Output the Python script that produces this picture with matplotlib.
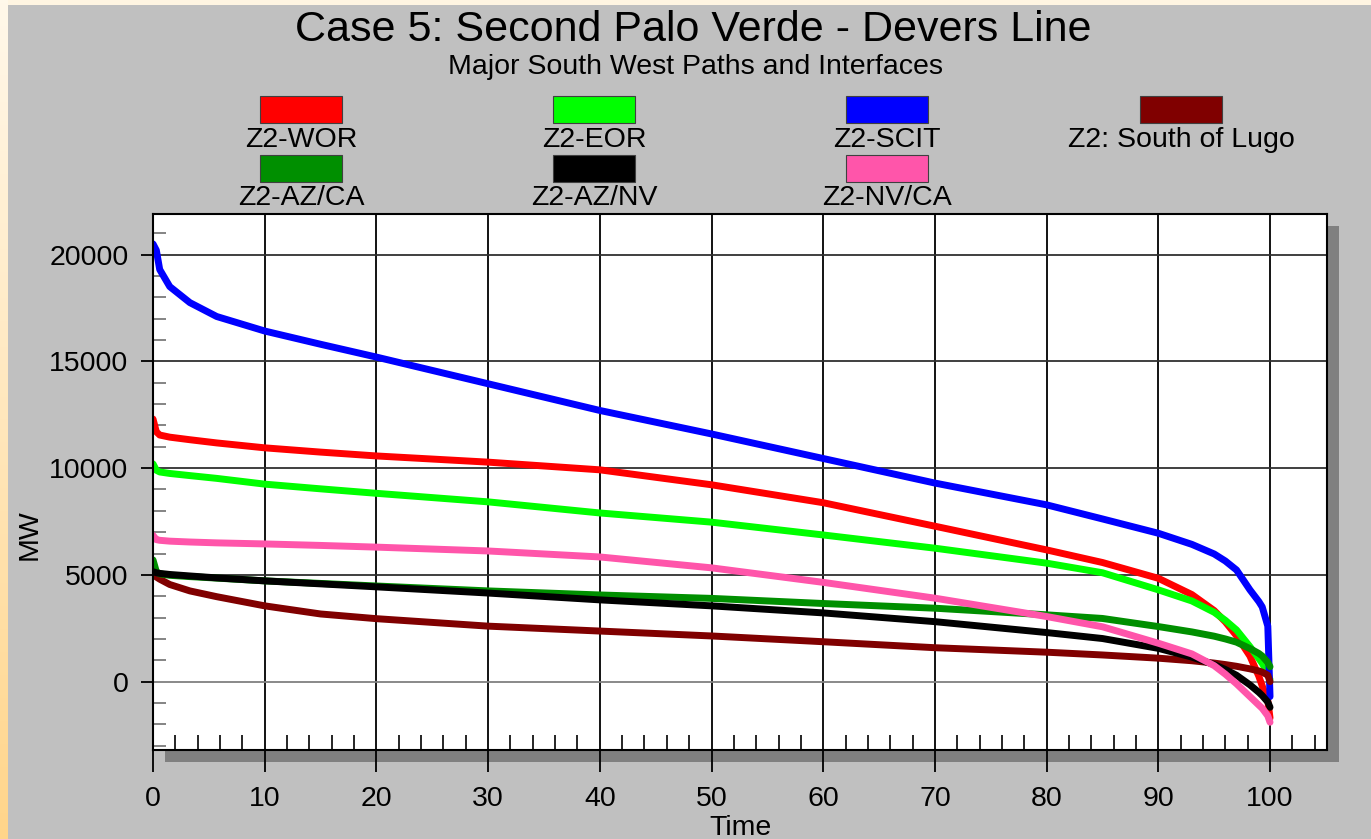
import numpy as np
import matplotlib
matplotlib.use("Agg")
import matplotlib.pyplot as plt
from matplotlib.patches import Rectangle
from matplotlib.ticker import MultipleLocator
from matplotlib.colors import LinearSegmentedColormap

plt.rcParams['font.family'] = ['Liberation Sans', 'DejaVu Sans']

# ---------------- data ----------------
time_pct = [0, 0.3, 0.6, 1.5, 3.3, 5.7, 10, 15, 20, 30, 40, 50, 60, 70, 80, 85, 90, 93, 95, 96, 97, 98.2, 99, 99.3, 99.8, 100]

wor  = [12300, 11700, 11550, 11450, 11330, 11180, 10950, 10750, 10570, 10280, 9920, 9220, 8380, 7280, 6170, 5580, 4840, 4080, 3330, 2800, 2150, 1200, 250, -200, -900, -1700]
eor  = [10200, 9900, 9820, 9750, 9650, 9520, 9250, 9030, 8820, 8420, 7900, 7470, 6870, 6250, 5550, 5100, 4300, 3780, 3250, 2870, 2420, 1640, 1080, 860, 400, 100]
scit = [20500, 20200, 19300, 18500, 17750, 17100, 16420, 15800, 15200, 13950, 12700, 11600, 10450, 9300, 8280, 7620, 6950, 6430, 5980, 5650, 5230, 4300, 3750, 3500, 2600, -700]
lugo = [5000, 4900, 4800, 4550, 4250, 3980, 3550, 3170, 2950, 2600, 2370, 2140, 1870, 1590, 1380, 1250, 1100, 980, 870, 800, 720, 600, 500, 450, 300, 0]
azca = [5700, 5150, 5050, 4980, 4920, 4850, 4720, 4600, 4480, 4250, 4060, 3900, 3660, 3440, 3130, 2960, 2580, 2330, 2130, 2000, 1850, 1550, 1320, 1200, 900, 700]
aznv = [5150, 5100, 5070, 5020, 4950, 4860, 4720, 4580, 4440, 4150, 3830, 3550, 3220, 2810, 2300, 2020, 1560, 1150, 800, 570, 300, -150, -500, -650, -950, -1200]
nvca = [6850, 6650, 6620, 6580, 6540, 6500, 6450, 6380, 6300, 6120, 5840, 5330, 4650, 3910, 3050, 2570, 1800, 1300, 750, 350, -100, -700, -1100, -1250, -1600, -1900]

series_names  = ["Z2-WOR", "Z2-EOR", "Z2-SCIT", "Z2: South of Lugo", "Z2-AZ/CA", "Z2-AZ/NV", "Z2-NV/CA"]
series_values = [wor, eor, scit, lugo, azca, aznv, nvca]
series_colors = ["#ff0000", "#00ff00", "#0000ff", "#800000", "#008f00", "#000000", "#ff55aa"]

x_ticks = [0, 10, 20, 30, 40, 50, 60, 70, 80, 90, 100]
y_ticks = [0, 5000, 10000, 15000, 20000]

title = "Case 5: Second Palo Verde - Devers Line"
subtitle = "Major South West Paths and Interfaces"

# ---------------- figure ----------------
W, H = 1371, 839
DPI = 100
fig = plt.figure(figsize=(W / DPI, H / DPI), dpi=DPI)
fig.patch.set_facecolor("#fff5e2")

def fx(px):
    return px / W

def fy(py):
    return 1 - py / H

# left gradient strip
gax = fig.add_axes([0, 0, fx(8), 1])
grad = np.linspace(0, 1, 256).reshape(-1, 1)
cm = LinearSegmentedColormap.from_list("g", ["#fff8ea", "#ffe7bc", "#ffd58a"])
gax.imshow(grad, aspect="auto", cmap=cm, extent=[0, 1, 0, 1])
gax.axis("off")

# gray panel
fig.patches.append(Rectangle((fx(8), 0), 1 - fx(8), fy(5), transform=fig.transFigure,
                             facecolor="#c0c0c0", edgecolor="none", zorder=-5))

# axes geometry
L, R, T, B = 153, 1327, 214, 750
# shadow
fig.patches.append(Rectangle((fx(L + 12), fy(B + 12)), fx(R - L), (B - T) / H, transform=fig.transFigure,
                             facecolor="#808080", edgecolor="none", zorder=-4))

ax = fig.add_axes([fx(L), fy(B), fx(R - L), (B - T) / H])
ax.set_facecolor("white")

for name, vals, col in zip(series_names, series_values, series_colors):
    ax.plot(time_pct, vals, color=col, lw=5, solid_capstyle="round", solid_joinstyle="round", zorder=3)

ax.set_xlim(0, 105.1)
ax.set_ylim(-3200, 21900)

ax.set_xticks(x_ticks)
ax.set_yticks(y_ticks)
ax.xaxis.set_minor_locator(MultipleLocator(2))
ax.yaxis.set_minor_locator(MultipleLocator(1000))

ax.tick_params(axis="x", which="major", direction="out", length=16, width=1.3, color="black",
               labelsize=20.5, pad=10)
ax.tick_params(axis="y", which="major", direction="out", length=8.6, width=1.3, color="black",
               labelsize=20.5, pad=9)
ax.tick_params(axis="x", which="minor", direction="in", length=10.8, width=1.2, color="black")
ax.tick_params(axis="y", which="minor", direction="in", length=9.4, width=1.2, color="#707070")

for x in x_ticks[1:]:
    ax.axvline(x, color="black", lw=1.3, zorder=1)
for y in y_ticks:
    ax.axhline(y, color="#808080" if y == 0 else "#303030", lw=1.3, zorder=1)

for s in ax.spines.values():
    s.set_color("black")
    s.set_linewidth(1.5)
    s.set_zorder(4)

ax.set_xlabel("Time", fontsize=20.5, labelpad=0)
ax.xaxis.set_label_coords(0.5, -(828 - B) / (B - T), transform=ax.transAxes)
ax.xaxis.label.set_va("center")
ax.set_ylabel("MW", fontsize=20.5)
ax.yaxis.set_label_coords(-(L - 30) / (R - L), (B - 535) / (B - T), transform=ax.transAxes)
ax.yaxis.label.set_va("center")

# titles
fig.text(fx(693), fy(30), title, ha="center", va="center", fontsize=31)
fig.text(fx(695), fy(67), subtitle, ha="center", va="center", fontsize=20.5)

# legend (patch above label)
col_centers = [301, 594, 887, 1181]
row_patch_top = [96, 155]
row_label_y = [140, 198]
layout = [(0, 0), (0, 1), (0, 2), (0, 3), (1, 0), (1, 1), (1, 2)]
for (r, c), name, col in zip(layout, series_names, series_colors):
    cx = col_centers[c]
    fig.patches.append(Rectangle((fx(cx - 41), fy(row_patch_top[r] + 27)), fx(82), 27 / H,
                                 transform=fig.transFigure, facecolor=col,
                                 edgecolor="#404040", lw=0.8, zorder=2))
    fig.text(fx(cx), fy(row_label_y[r]), name, ha="center", va="center", fontsize=20.5)

fig.savefig("out.png", dpi=DPI)
